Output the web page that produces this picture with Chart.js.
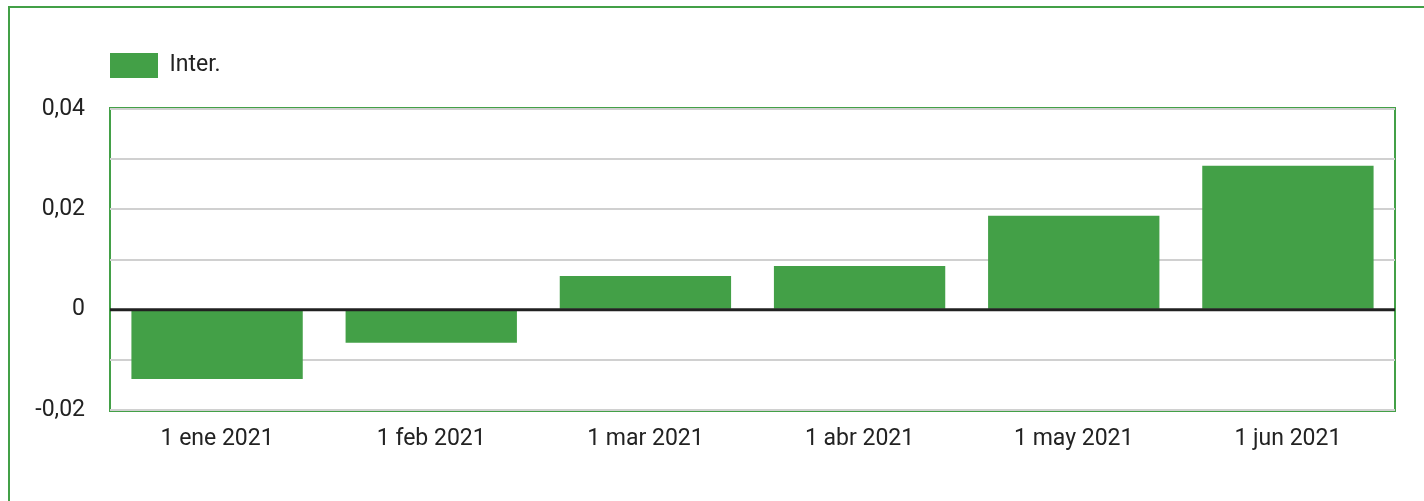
<!DOCTYPE html>
<html>
<head>
<meta charset="utf-8">
<script src="https://cdn.jsdelivr.net/npm/chart.js@4/dist/chart.umd.min.js"></script>
<style>
  html, body { margin: 0; padding: 0; background: #fff; overflow: hidden; }
  .frame {
    position: absolute; left: 8px; top: 6px;
    width: 1500px; height: 600px;
    border: 2px solid #43a047;
  }
  #chart { position: absolute; left: 0; top: 0; }
</style>
</head>
<body>
<div class="frame"></div>
<canvas id="chart" width="1424" height="501"></canvas>
<script>
const months = ["1 ene 2021", "1 feb 2021", "1 mar 2021", "1 abr 2021", "1 may 2021", "1 jun 2021"];
const interValues = [-0.0138, -0.0066, 0.0067, 0.0087, 0.0187, 0.0287];
const yTickValues = [-0.02, 0, 0.02, 0.04];
const yTickLabels = ["-0,02", "0", "0,02", "0,04"];

const green = "#43a047";
const textColor = "#222";
const isZero = (v) => Math.abs(v) < 1e-9;

// plot frame under the grid, zero line over the bars
const framePlugin = {
  id: "plotFrame",
  beforeDraw(chart) {
    const { ctx, chartArea: a } = chart;
    ctx.save();
    ctx.strokeStyle = green;
    ctx.lineWidth = 2;
    ctx.strokeRect(a.left, a.top - 1, a.right - a.left, a.bottom - a.top + 2);
    ctx.restore();
  },
  afterDatasetsDraw(chart) {
    const { ctx, chartArea: a } = chart;
    const y = chart.scales.y.getPixelForValue(0);
    ctx.save();
    ctx.strokeStyle = "#212121";
    ctx.lineWidth = 3;
    ctx.beginPath();
    ctx.moveTo(a.left, y);
    ctx.lineTo(a.right, y);
    ctx.stroke();
    ctx.restore();
  },
};

new Chart(document.querySelector("#chart"), {
  type: "bar",
  data: {
    labels: months,
    datasets: [
      {
        label: "Inter.",
        data: interValues,
        backgroundColor: green,
        borderWidth: 0,
        categoryPercentage: 1,
        barPercentage: 0.8,
      },
    ],
  },
  options: {
    responsive: false,
    animation: false,
    layout: { padding: { top: 53, right: 29, left: 0, bottom: 0 } },
    font: { family: "Roboto" },
    plugins: {
      legend: {
        position: "top",
        align: "start",
        fullSize: false,
        labels: {
          boxWidth: 48,
          boxHeight: 25,
          padding: 0,
          color: textColor,
          font: { family: "Roboto", size: 23 },
        },
      },
      subtitle: {
        display: true,
        text: "",
        weight: 0,
        font: { size: 10, lineHeight: 1 },
        padding: { top: 0, bottom: 11 },
      },
      tooltip: { enabled: false },
    },
    scales: {
      x: {
        grid: { display: false },
        border: { display: false },
        ticks: {
          color: textColor,
          padding: 7,
          font: { family: "Roboto", size: 23 },
        },
        afterFit: (scale) => {
          scale.height = 91;
        },
      },
      y: {
        min: -0.02,
        max: 0.04,
        border: { display: false },
        grid: {
          drawTicks: false,
          lineWidth: 2,
          color: (ctx) => (isZero(ctx.tick.value) ? "rgba(0,0,0,0)" : "#d0d0d0"),
        },
        ticks: {
          stepSize: 0.01,
          padding: 25,
          color: textColor,
          font: { family: "Roboto", size: 23 },
          callback: (value) => {
            const i = yTickValues.findIndex((v) => Math.abs(v - value) < 1e-9);
            return i >= 0 ? yTickLabels[i] : "";
          },
        },
        afterFit: (scale) => {
          scale.width = 110;
        },
      },
    },
  },
  plugins: [framePlugin],
});
</script>
</body>
</html>
